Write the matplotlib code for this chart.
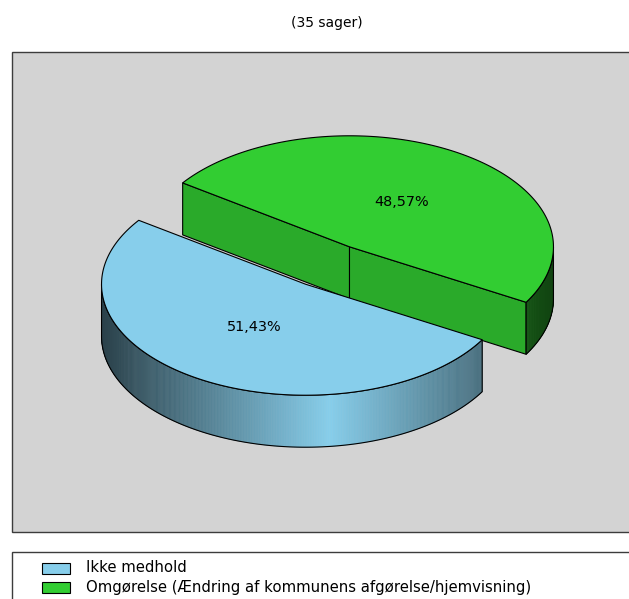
import numpy as np
import matplotlib
matplotlib.use("Agg")
import matplotlib.pyplot as plt
from matplotlib.patches import Polygon, Rectangle

# Data
title = "(35 sager)"
labels = ["Ikke medhold", "Omgørelse (Ændring af kommunens afgørelse/hjemvisning)"]
shares = [51.43, 48.57]
top_colors = ["#87ceeb", "#32cd32"]
cut_colors = ["#6fb0cc", "#2aaa2a"]
start_angle = 144.85  # degrees, slices run counter-clockwise

# 3D pie geometry (figure pixels)
W, H = 629, 599
cx, cy = 327.5, 265.5
a, b = 204.0, 111.0
depth = 52.0
explode = 0.2
light_x = 330.0  # brightest point of the side walls

fig = plt.figure(figsize=(W / 100, H / 100), dpi=100)
ax = fig.add_axes([0, 0, 1, 1])
ax.set_xlim(0, W)
ax.set_ylim(H, 0)
ax.axis("off")

# plot area and legend frames
ax.add_patch(Rectangle((11.5, 51.5), 640, 480, facecolor="#d3d3d3", edgecolor="#3c3c3c", lw=1))
ax.add_patch(Rectangle((11.5, 551.5), 640, 60, facecolor="white", edgecolor="#3c3c3c", lw=1))
ax.text(326.5, 23, title, ha="center", va="center", fontsize=10)


def rgb(c):
    return np.array(matplotlib.colors.to_rgb(c))


def pt(c, t, dz=0.0):
    return (c[0] + a * np.cos(t), c[1] - b * np.sin(t) + dz)


def shade(x):
    return max(0.25, 1 - 0.69 * abs(x - light_x) / 229.0)


total = sum(shares)
slices = []
t = np.radians(start_angle)
for i, v in enumerate(shares):
    span = np.radians(v / total * 360)
    slices.append((i, t, t + span))
    t += span

# back slices first
slices.sort(key=lambda s: -np.sin((s[1] + s[2]) / 2))

for i, t1, t2 in slices:
    mid = (t1 + t2) / 2
    c = (cx + explode * a * np.cos(mid), cy - explode * b * np.sin(mid))
    cd = (c[0], c[1] + depth)

    # cut faces that face the viewer
    for tt, nrm in ((t1, t1 - np.pi / 2), (t2, t2 + np.pi / 2)):
        if np.sin(nrm) < 0:
            ax.add_patch(Polygon([c, pt(c, tt), pt(c, tt, depth), cd], closed=True,
                                 facecolor=cut_colors[i], edgecolor="black", lw=0.8))

    # outer side, front half only
    ts = np.linspace(t1, t2, 400)
    front = np.sin(ts) < 0
    if front.any():
        base = rgb(top_colors[i])
        tf = ts[front]
        for k in range(len(tf) - 1):
            xm = (pt(c, tf[k])[0] + pt(c, tf[k + 1])[0]) / 2
            col = np.clip(base * shade(xm), 0, 1)
            quad = [pt(c, tf[k]), pt(c, tf[k + 1]), pt(c, tf[k + 1], depth), pt(c, tf[k], depth)]
            ax.add_patch(Polygon(quad, closed=True, facecolor=col, edgecolor=col, lw=0.4))
        outline = [pt(c, x) for x in tf] + [pt(c, x, depth) for x in tf[::-1]]
        ax.add_patch(Polygon(outline, closed=True, facecolor="none", edgecolor="black", lw=0.8))

    # top face
    top = [c] + [pt(c, x) for x in ts]
    ax.add_patch(Polygon(top, closed=True, facecolor=top_colors[i], edgecolor="black", lw=0.8))

    lx, ly = pt(c, mid)
    ax.text(c[0] + 0.47 * (lx - c[0]), c[1] + 0.47 * (ly - c[1]) - 1,
            f"{shares[i]:.2f}%".replace(".", ","), ha="center", va="center", fontsize=10.4)

# legend
for k, (lab, col) in enumerate(zip(labels, top_colors)):
    y = 568 + k * 19.5
    ax.add_patch(Rectangle((42, y - 5.5), 28, 11, facecolor=col, edgecolor="black", lw=0.8))
    ax.text(86, y, lab, ha="left", va="center", fontsize=10.7)

fig.savefig("out.png", dpi=100)
